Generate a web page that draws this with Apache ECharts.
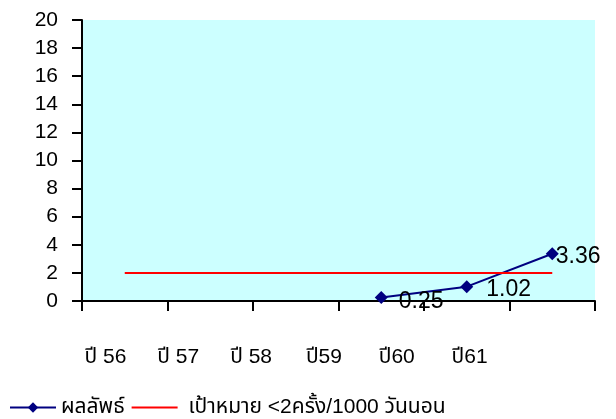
<!DOCTYPE html>
<html><head><meta charset="utf-8">
<script src="https://cdn.jsdelivr.net/npm/echarts@6/dist/echarts.min.js"></script>
<style>html,body{margin:0;padding:0;background:#fff}#c{width:616px;height:419px}</style>
</head><body><div id="c"></div>
<script>
var categories = ['ปี 56', 'ปี 57', 'ปี 58', 'ปี59', 'ปี60', 'ปี61'];
var resultValues = [null, null, null, 0.25, 1.02, 3.36];
var targetValues = [2, 2, 2, 2, 2, 2];
var yTicks = [0, 2, 4, 6, 8, 10, 12, 14, 16, 18, 20];
var seriesNames = ['ผลลัพธ์', 'เป้าหมาย <2ครั้ง/1000 วันนอน'];

var FONT = '"Liberation Sans", Arial, "Noto Sans Thai", "Noto Sans", sans-serif';
var labelOffsets = [[0,0],[0,0],[0,0],[0,4],[2,3],[-14,3]];

var chart = echarts.init(document.getElementById('c'), null, {renderer: 'canvas'});
chart.setOption({
  animation: false,
  textStyle: {fontFamily: FONT},
  grid: [
    {left: 82, right: 21, top: 20, bottom: 118, show: true, backgroundColor: '#CCFFFF', borderWidth: 0},
    {left: 69, width: 437, top: 20, bottom: 118, show: false}
  ],
  xAxis: [
    {type: 'category', gridIndex: 0, data: categories, boundaryGap: true,
     axisLine: {lineStyle: {color: '#000', width: 2}},
     axisTick: {show: true, length: 10, inside: false, alignWithLabel: false, lineStyle: {color: '#000', width: 2}},
     axisLabel: {show: false}},
    {type: 'category', gridIndex: 1, data: categories, boundaryGap: true,
     axisLine: {show: false}, axisTick: {show: false},
     axisLabel: {show: true, margin: 46, fontSize: 21, color: '#000', fontFamily: FONT}}
  ],
  yAxis: [
    {type: 'value', gridIndex: 0, min: yTicks[0], max: yTicks[yTicks.length-1], interval: 2,
     axisLine: {show: true, lineStyle: {color: '#000', width: 2}},
     axisTick: {show: true, length: 10, lineStyle: {color: '#000', width: 2}},
     splitLine: {show: false},
     axisLabel: {margin: 24, fontSize: 21, color: '#000', fontFamily: FONT}},
    {type: 'value', gridIndex: 1, min: 0, max: 20, show: false}
  ],
  legend: {
    top: 392, left: 4, itemWidth: 46, itemHeight: 13, itemGap: 6,
    textStyle: {fontSize: 21, color: '#000', fontFamily: FONT},
    data: [
      {name: seriesNames[0]},
      {name: seriesNames[1], itemStyle: {opacity: 0}, textStyle: {padding: [0, 0, 0, 6]}}
    ]
  },
  series: [
    {name: seriesNames[0], type: 'line', xAxisIndex: 0, yAxisIndex: 0,
     data: resultValues.map(function(v, i){
       return {value: v, label: {offset: labelOffsets[i]}};
     }),
     symbol: 'diamond', symbolSize: 13, connectNulls: false,
     lineStyle: {color: '#000080', width: 2},
     itemStyle: {color: '#000080'},
     label: {show: true, position: 'right', distance: 11, fontSize: 23, color: '#000', fontFamily: FONT}},
    {name: seriesNames[1], type: 'line', xAxisIndex: 0, yAxisIndex: 0,
     data: targetValues, symbol: 'none',
     lineStyle: {color: '#FF0000', width: 2},
     itemStyle: {color: '#FF0000'}}
  ]
});
</script></body></html>
